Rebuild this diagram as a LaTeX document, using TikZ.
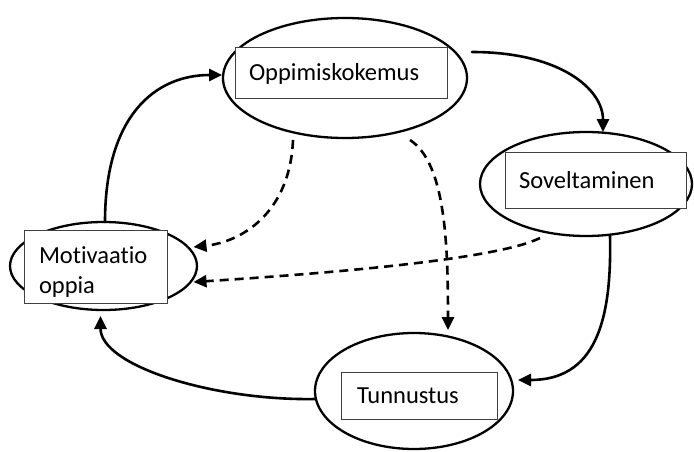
\documentclass[tikz,border=0pt]{standalone}
\usepackage{fontspec}
\setmainfont{Carlito}[Ligatures=NoCommon]
\usetikzlibrary{shapes.geometric,arrows.meta}

\tikzset{
  oval/.style={ellipse, draw=black, line width=2.3pt, inner sep=0pt},
  label box/.style={rectangle, draw=black!75, line width=1pt, fill=white,
    inner ysep=0pt, inner xsep=14pt, align=left,
    font=\fontsize{24.5}{30}\selectfont},
  link/.style={line width=2.6pt, line cap=round,
    -{Triangle[length=13pt,width=12pt]}},
  soft link/.style={link, line cap=butt, dash pattern=on 9pt off 6pt}
}

\begin{document}
\begin{tikzpicture}[x=1pt, y=-1pt]
  \useasboundingbox[fill=white] (0,0) rectangle (694,452);

  % outer ellipses
  \node[oval, minimum width=244pt, minimum height=120pt] (e1) at (345,78) {};
  \node[oval, minimum width=212pt, minimum height=104pt] (e2) at (586,184) {};
  \node[oval, minimum width=187pt, minimum height=88pt]  (e3) at (103.5,266) {};
  \node[oval, minimum width=198pt, minimum height=116pt] (e4) at (414,391) {};

  % labelled boxes inside the ellipses
  \node[label box, minimum width=212pt, minimum height=51pt, text width=184pt]
    (b1) at (341,73.5) {Oppimiskokemus};
  \node[label box, minimum width=181pt, minimum height=56pt, text width=153pt]
    (b2) at (595.5,180) {Soveltaminen};
  \node[label box, minimum width=143pt, minimum height=73pt, text width=113pt,
    inner xsep=15pt] (b3) at (95.5,266.5) {\rule{0pt}{27pt}Motivaatio\\oppia};
  \node[label box, minimum width=156pt, minimum height=47pt, text width=124pt,
    inner xsep=16pt] (b4) at (419,395.5) {Tunnustus};

  % solid cycle
  \draw[link] ([shift={(1.5,-44)}]e3.center)
    .. controls ([shift={(1.5,-150)}]e3.center) and ([shift={(-190,-3)}]e1.center)
    .. ([shift={(-123,-3)}]e1.center);
  \draw[link] ([shift={(127,-26)}]e1.center)
    .. controls ([shift={(215,-26)}]e1.center) and ([shift={(17,-95)}]e2.center)
    .. ([shift={(17,-52)}]e2.center);
  \draw[link] ([shift={(24,52)}]e2.center)
    .. controls ([shift={(26,140)}]e2.center) and ([shift={(180,-11)}]e4.center)
    .. ([shift={(104,-11)}]e4.center);
  \draw[link] ([shift={(-98,8)}]e4.center)
    .. controls ([shift={(-200,10)}]e4.center) and ([shift={(-3,100)}]e3.center)
    .. ([shift={(-3,50)}]e3.center);

  % dashed influences
  \draw[soft link] ([shift={(-52,62)}]e1.center)
    .. controls ([shift={(-55,135)}]e1.center) and ([shift={(138,-24)}]e3.center)
    .. ([shift={(90,-19)}]e3.center);
  \draw[soft link] ([shift={(65,62)}]e1.center)
    .. controls ([shift={(100,85)}]e1.center) and ([shift={(34,-150)}]e4.center)
    .. ([shift={(34,-61)}]e4.center);
  \draw[soft link] ([shift={(-46,54)}]e2.center)
    .. controls ([shift={(-86,74)}]e2.center) and ([shift={(246,6)}]e3.center)
    .. ([shift={(90,16)}]e3.center);
\end{tikzpicture}
\end{document}
